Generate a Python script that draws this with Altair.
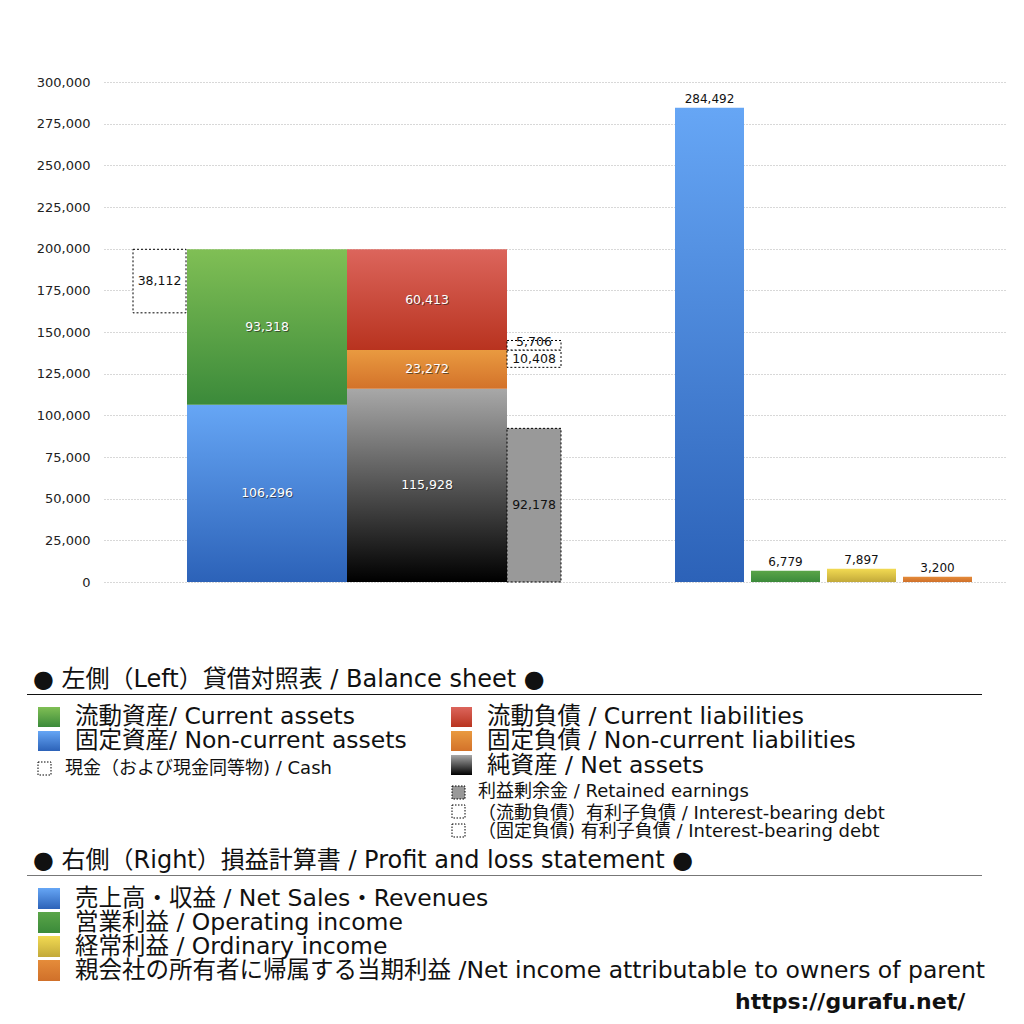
import altair as alt
import pandas as pd

# ---------------- data ----------------
# Balance sheet (left)
bs_current_assets = 93318
bs_noncurrent_assets = 106296
bs_cash = 38112
bs_current_liab = 60413
bs_noncurrent_liab = 23272
bs_net_assets = 115928
bs_retained = 92178
bs_debt_current = 5706
bs_debt_noncurrent = 10408

# Profit and loss (right)
pl_names = ["売上高・収益", "営業利益", "経常利益", "当期利益"]
pl_values = [284492, 6779, 7897, 3200]

y_ticks = list(range(0, 300001, 25000))

FONT = "DejaVu Sans, Noto Sans CJK JP"

# ---------------- layout (plot pixels) ----------------
W, H = 901, 500
col_cash = (29, 82)
col_assets = (83, 243)
col_liab = (243, 403)
col_side = (403, 457)
pl_cols = [(571, 640), (647, 716), (723, 792), (799, 868)]


def grad(top, bottom):
    return {"gradient": "linear", "x1": 0, "x2": 0, "y1": 0, "y2": 1,
            "stops": [{"offset": 0, "color": top}, {"offset": 1, "color": bottom}]}


G_GREEN = grad("#80bf55", "#3b8a3a")
G_BLUE = grad("#66a6f5", "#2c62b8")
G_RED = grad("#dc655c", "#b8331f")
G_ORANGE = grad("#e99a40", "#d3722a")
G_BLACK = grad("#a8a8a8", "#000000")
G_PGREEN = grad("#5aa548", "#3b8a3a")
G_YELLOW = grad("#f2da52", "#c2a93a")
G_PORANGE = grad("#e58c3a", "#d0702a")

xs = alt.Scale(domain=[0, W], nice=False, zero=False)
ys = alt.Scale(domain=[0, 300000], nice=False)
y_axis = alt.Axis(values=y_ticks, format=",d", title=None, domain=False, ticks=False,
                  labelFontSize=13, labelFont="DejaVu Sans", labelColor="#222", labelPadding=14,
                  grid=True, gridDash=[1, 2], gridColor="#b0b0b0", gridWidth=1)

# stacked positions computed from values
assets_top = bs_noncurrent_assets + bs_current_assets
liab_mid = bs_net_assets + bs_noncurrent_liab
liab_top = liab_mid + bs_current_liab

rows = []
def add(name, col, y0, y1, val, fill, stroke=None, lab="white", dy=0):
    rows.append(dict(name=name, x0=col[0], x1=col[1], y0=y0, y1=y1,
                     val=val, fill=fill, stroke=stroke, lab=lab, dy=dy))

add("cash", col_cash, assets_top - bs_cash, assets_top, bs_cash, "white", "black", "black")
add("noncurrent_assets", col_assets, 0, bs_noncurrent_assets, bs_noncurrent_assets, G_BLUE)
add("current_assets", col_assets, bs_noncurrent_assets, assets_top, bs_current_assets, G_GREEN)
add("net_assets", col_liab, 0, bs_net_assets, bs_net_assets, G_BLACK)
add("noncurrent_liab", col_liab, bs_net_assets, liab_mid, bs_noncurrent_liab, G_ORANGE)
add("current_liab", col_liab, liab_mid, liab_top, bs_current_liab, G_RED)
add("retained", col_side, 0, bs_retained, bs_retained, "#999999", "black", "black")
add("debt_nc", col_side, liab_mid - bs_debt_noncurrent, liab_mid, bs_debt_noncurrent, "white", "black", "black", 0)
add("debt_c", col_side, liab_mid, liab_mid + bs_debt_current, bs_debt_current, "white", "black", "black", -3)

pl_fills = [G_BLUE, G_PGREEN, G_YELLOW, G_PORANGE]
for n, v, c, f in zip(pl_names, pl_values, pl_cols, pl_fills):
    add(n, c, 0, v, v, f, None, "top")

main_layers = []
for r in rows:
    df = pd.DataFrame([dict(x0=r["x0"], x1=r["x1"], y0=r["y0"], y1=r["y1"],
                            xm=(r["x0"] + r["x1"]) / 2, ym=(r["y0"] + r["y1"]) / 2,
                            label=f"{r['val']:,}")])
    kw = dict(fill=r["fill"])
    if r["stroke"]:
        kw.update(stroke=r["stroke"], strokeWidth=1, strokeDash=[2, 2])
    base = alt.Chart(df)
    main_layers.append(base.mark_rect(**kw).encode(
        x=alt.X("x0:Q", scale=xs, axis=None), x2="x1:Q",
        y=alt.Y("y0:Q", scale=ys, axis=y_axis), y2="y1:Q"))
    if r["lab"] == "white":
        main_layers.append(base.mark_text(font="DejaVu Sans", fontSize=12.5, color="#222", opacity=0.6,
                                          dx=1, dy=1).encode(
            x=alt.X("xm:Q", scale=xs, axis=None), y=alt.Y("ym:Q", scale=ys, axis=y_axis), text="label:N"))
        main_layers.append(base.mark_text(font="DejaVu Sans", fontSize=12.5, color="white").encode(
            x=alt.X("xm:Q", scale=xs, axis=None), y=alt.Y("ym:Q", scale=ys, axis=y_axis), text="label:N"))
    elif r["lab"] == "black":
        main_layers.append(base.mark_text(font="DejaVu Sans", fontSize=12.5, color="#111", dy=r["dy"]).encode(
            x=alt.X("xm:Q", scale=xs, axis=None), y=alt.Y("ym:Q", scale=ys, axis=y_axis), text="label:N"))
    else:
        main_layers.append(base.mark_text(font="DejaVu Sans", fontSize=12, color="#111", baseline="bottom",
                                          dy=-2).encode(
            x=alt.X("xm:Q", scale=xs, axis=None), y=alt.Y("y1:Q", scale=ys, axis=y_axis), text="label:N"))

main = alt.layer(*main_layers)

# ---------------- legend (page pixel layout through its own scales) ----------------
lx = alt.Scale(domain=[104, 1104], range=[0, 1000], nice=False, zero=False)
ly = alt.Scale(domain=[82, 1082], range=[0, 1000], nice=False, zero=False)

headers = pd.DataFrame([
    dict(x=33, y=680, t="● 左側（Left）貸借対照表 / Balance sheet ●"),
    dict(x=33, y=861, t="● 右側（Right）損益計算書 / Profit and loss statement ●"),
])
rules = pd.DataFrame([
    dict(x=27, x2=982, y=694.5, c="#111111"),
    dict(x=27, x2=982, y=875.5, c="#777777"),
])

big = 23.5
small = 18
items = [
    # (swatch x, swatch top, w, h, fill, dotted, text x, text y, text, size)
    (38, 707, 22, 20, G_GREEN, False, 75, 717, "流動資産/ Current assets", big),
    (38, 731, 22, 20, G_BLUE, False, 75, 741, "固定資産/ Non-current assets", big),
    (38, 762, 13, 13, "white", True, 65, 769, "現金（および現金同等物) / Cash", small),
    (451, 707, 21, 20, G_RED, False, 487, 717, "流動負債 /  Current liabilities", big),
    (451, 731, 21, 20, G_ORANGE, False, 487, 741, "固定負債 / Non-current liabilities", big),
    (451, 755, 21, 20, G_BLACK, False, 487, 766, "純資産 / Net assets", big),
    (452, 786, 13, 13, "#999999", True, 478, 792, "利益剰余金 / Retained earnings", small),
    (452, 805, 13, 13, "white", True, 478, 814, "（流動負債）有利子負債 / Interest-bearing debt", small),
    (452, 824, 13, 13, "white", True, 478, 832, "（固定負債) 有利子負債 / Interest-bearing debt", small),
    (38, 888, 22, 21, G_BLUE, False, 75, 899, "売上高・収益 / Net Sales・Revenues", big),
    (38, 912, 22, 21, G_PGREEN, False, 75, 923, "営業利益 / Operating income", big),
    (38, 936, 22, 21, G_YELLOW, False, 75, 947, "経常利益 / Ordinary income", big),
    (38, 960, 22, 21, G_PORANGE, False, 75, 971, "親会社の所有者に帰属する当期利益 /Net income attributable to owners of parent", big),
]

legend_layers = [
    alt.Chart(rules).mark_rule(strokeWidth=1.2).encode(
        x=alt.X("x:Q", scale=lx, axis=None), x2="x2:Q",
        y=alt.Y("y:Q", scale=ly, axis=None), color=alt.Color("c:N", scale=None)),
    alt.Chart(headers).mark_text(font=FONT, fontSize=24, align="left", baseline="middle", color="#111").encode(
        x=alt.X("x:Q", scale=lx, axis=None), y=alt.Y("y:Q", scale=ly, axis=None), text="t:N"),
]
for sx, st, sw, sh, fill, dotted, tx, ty, txt, fs in items:
    sdf = pd.DataFrame([dict(x=sx, x2=sx + sw, y=st, y2=st + sh)])
    kw = dict(fill=fill)
    if dotted:
        kw.update(stroke="black", strokeWidth=1, strokeDash=[1.5, 1.5])
    legend_layers.append(alt.Chart(sdf).mark_rect(**kw).encode(
        x=alt.X("x:Q", scale=lx, axis=None), x2="x2:Q",
        y=alt.Y("y:Q", scale=ly, axis=None), y2="y2:Q"))
    tdf = pd.DataFrame([dict(x=tx, y=ty, t=txt)])
    legend_layers.append(alt.Chart(tdf).mark_text(font=FONT, fontSize=fs, align="left",
                                                  baseline="middle", color="#111").encode(
        x=alt.X("x:Q", scale=lx, axis=None), y=alt.Y("y:Q", scale=ly, axis=None), text="t:N"))

url = pd.DataFrame([dict(x=735, y=1002, t="https://gurafu.net/")])
legend_layers.append(alt.Chart(url).mark_text(font="DejaVu Sans", fontSize=22, fontWeight="bold",
                                              align="left", baseline="middle", color="#111").encode(
    x=alt.X("x:Q", scale=lx, axis=None), y=alt.Y("y:Q", scale=ly, axis=None), text="t:N"))

legend = alt.layer(*legend_layers)

chart = alt.layer(main, legend).resolve_scale(x="independent", y="independent").properties(
    width=W, height=H,
    autosize=alt.AutoSizeParams(type="none"),
    padding={"left": 96, "top": 74, "right": 11, "bottom": 434},
    background="white",
).configure_view(strokeWidth=0)

chart.save("out.html", embed_options={"renderer": "svg", "actions": False})
